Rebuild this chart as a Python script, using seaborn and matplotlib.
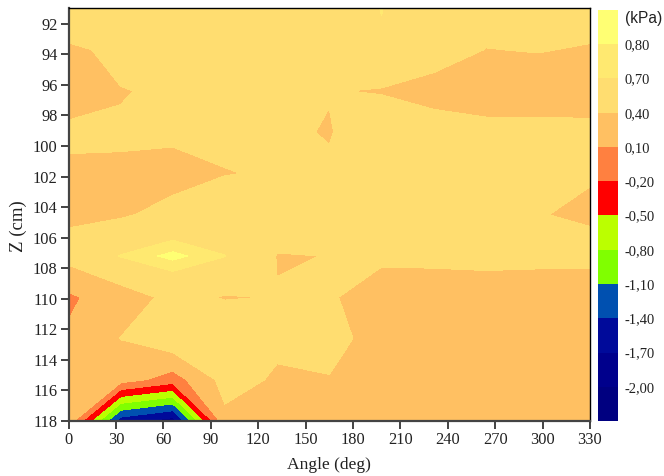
import numpy as np
import matplotlib
matplotlib.use('Agg')
import matplotlib.pyplot as plt
import seaborn as sns

# Measurement grid
angle = [0, 33, 66, 99, 132, 165, 198, 231, 264, 297, 330]
z_cm = [91, 93.7, 96.4, 99.1, 101.8, 104.5, 107.2, 109.9, 112.6, 115.3, 118]

# Pressure (kPa), one list per Z position
p_091 = [0.52, 0.53, 0.55, 0.55, 0.55, 0.55, 0.705, 0.55, 0.50, 0.50, 0.50]
p_094 = [0.376, 0.43, 0.55, 0.58, 0.58, 0.60, 0.676, 0.525, 0.395, 0.41, 0.382]
p_096 = [0.30, 0.396, 0.413, 0.50, 0.50, 0.414, 0.378, 0.30, 0.28, 0.28, 0.28]
p_099 = [0.442, 0.408, 0.45, 0.43, 0.456, 0.38, 0.62, 0.525, 0.47, 0.47, 0.46]
p_102 = [0.361, 0.391, 0.31, 0.395, 0.412, 0.448, 0.55, 0.55, 0.55, 0.55, 0.419]
p_105 = [0.353, 0.37, 0.48, 0.486, 0.50, 0.50, 0.55, 0.55, 0.55, 0.411, 0.36]
p_107 = [0.50, 0.71, 0.836, 0.705, 0.392, 0.402, 0.45, 0.50, 0.50, 0.50, 0.50]
p_110 = [0.05, 0.266, 0.47, 0.385, 0.408, 0.43, 0.263, 0.162, 0.216, 0.18, 0.16]
p_113 = [0.14, 0.405, 0.625, 0.60, 0.45, 0.50, 0.28, 0.30, 0.30, 0.30, 0.30]
p_115 = [0.30, 0.23, -0.04, 0.50, 0.368, 0.385, 0.30, 0.30, 0.30, 0.30, 0.30]
p_118 = [0.30, -1.57, -1.85, 0.33, 0.32, 0.30, 0.28, 0.30, 0.30, 0.30, 0.30]

levels = [-2.3, -2.0, -1.7, -1.4, -1.1, -0.8, -0.5, -0.2, 0.1, 0.4, 0.7, 0.8, 0.9]
cbar_ticks = [-2.0, -1.7, -1.4, -1.1, -0.8, -0.5, -0.2, 0.1, 0.4, 0.7, 0.8]
cbar_labels = ['-2,00', '-1,70', '-1,40', '-1,10', '-0,80', '-0,50', '-0,20',
               '0,10', '0,40', '0,70', '0,80']
band_colors = ['#000080', '#00008c', '#000a9a', '#0050b0', '#80ff00', '#bbff00',
               '#ff0000', '#ff8040', '#ffc062', '#ffdd70', '#ffe970', '#ffff73']

sns.set_theme(style="ticks")
plt.rcParams['font.family'] = ['Liberation Serif', 'DejaVu Serif']

W, H = 664, 476
fig = plt.figure(figsize=(W / 100, H / 100), dpi=100)
ax = fig.add_axes([68.5 / W, 1 - 421 / H, (590 - 68.5) / W, (421 - 8.5) / H])
cax = fig.add_axes([598 / W, 1 - 421 / H, 20 / W, 411 / H])

pressure = np.array([p_091, p_094, p_096, p_099, p_102, p_105,
                     p_107, p_110, p_113, p_115, p_118])
cf = ax.contourf(angle, z_cm, pressure, levels=levels,
                 colors=sns.color_palette(band_colors))

ax.set_xlim(0, 330)
ax.set_ylim(118, 91)
ax.set_xticks(range(0, 331, 30))
ax.set_yticks(range(92, 119, 2))
ax.tick_params(axis='both', labelsize=11.8, length=5.5, width=1.2, color='#222222',
               labelcolor='#222222', pad=2.5)
for side in ['left', 'bottom']:
    ax.spines[side].set_linewidth(1.6)
    ax.spines[side].set_color('#444444')
for side in ['top', 'right']:
    ax.spines[side].set_linewidth(1.0)
    ax.spines[side].set_color('black')

# axis titles sit off-centre in the original, so placed by hand
fig.text(329 / W, 1 - 465 / H, 'Angle (deg)', fontsize=12.6, color='#222222',
         ha='center', va='center')
fig.text(18 / W, 1 - 226 / H, 'Z (cm)', fontsize=13.5, color='#222222',
         rotation=90, ha='center', va='center')

cbar = fig.colorbar(cf, cax=cax, spacing='uniform', ticks=cbar_ticks)
cbar.ax.set_yticklabels(cbar_labels)
cbar.ax.tick_params(length=0, labelsize=10.5, pad=5, labelcolor='#222222')
cbar.outline.set_visible(False)
fig.text(625 / W, 1 - 19 / H, '(kPa)', family='Liberation Sans', fontsize=11.2,
         color='#222222', va='center', ha='left')

plt.savefig('out.png', dpi=100)
